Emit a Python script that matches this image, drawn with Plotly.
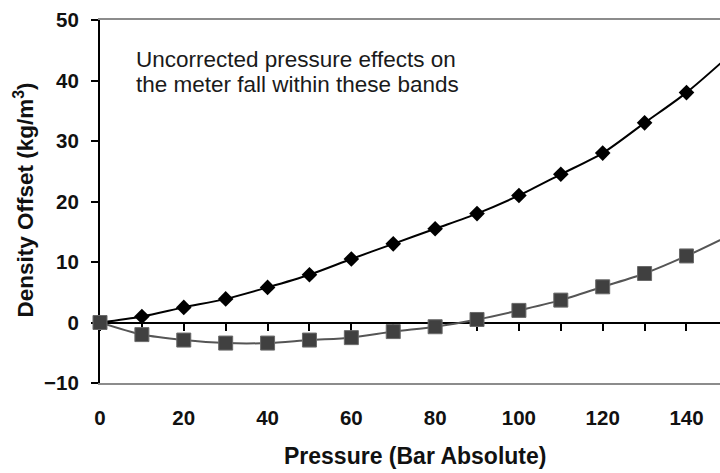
import plotly.graph_objects as go

# ---- data ----
pressure = [0, 10, 20, 30, 40, 50, 60, 70, 80, 90, 100, 110, 120, 130, 140, 150]
upper_band = [0, 1.0, 2.5, 3.9, 5.8, 7.9, 10.5, 13.0, 15.5, 18.0, 21.0, 24.5, 28.0, 33.0, 38.0, 44.0]
lower_band = [0, -2.0, -2.9, -3.4, -3.4, -2.9, -2.5, -1.5, -0.7, 0.5, 2.0, 3.7, 5.9, 8.1, 11.0, 14.3]
x_tick_vals = [0, 20, 40, 60, 80, 100, 120, 140]
y_tick_vals = [-10, 0, 10, 20, 30, 40, 50]
note_lines = ["Uncorrected pressure effects on", "the meter fall within these bands"]
x_title = "Pressure (Bar Absolute)"
y_title = "Density Offset (kg/m<sup>3</sup>)"

FONT = "Liberation Sans, Arial, sans-serif"
W, H = 720, 473
ML, MR, MT, MB = 100, 0, 20, 90
PW, PH = W - ML - MR, H - MT - MB


def px_x(p):
    return (p - ML) / PW


def px_y(p):
    return (H - MB - p) / PH


fig = go.Figure()

fig.add_trace(go.Scatter(
    x=pressure, y=upper_band, mode="lines+markers",
    line=dict(color="#000000", width=2, shape="spline", smoothing=0.8),
    marker=dict(symbol="diamond", size=12, color="#000000",
                line=dict(color="#000000", width=0)),
    cliponaxis=False, showlegend=False, hoverinfo="x+y",
))
fig.add_trace(go.Scatter(
    x=pressure, y=lower_band, mode="lines+markers",
    line=dict(color="#555555", width=2, shape="spline", smoothing=0.8),
    marker=dict(symbol="square", size=14, color="#404040",
                line=dict(color="#6a6a6a", width=1)),
    cliponaxis=False, showlegend=False, hoverinfo="x+y",
))
# empty trace to register the zero-line axis
fig.add_trace(go.Scatter(x=[None], y=[None], xaxis="x2", yaxis="y",
                         mode="markers", showlegend=False, hoverinfo="skip"))

tickfont = dict(family=FONT, size=20.5, color="#111111", weight="bold")

fig.update_layout(
    width=W, height=H,
    margin=dict(l=ML, r=MR, t=MT, b=MB, pad=0),
    paper_bgcolor="white", plot_bgcolor="white",
    showlegend=False,
    xaxis=dict(
        range=[0, 148], tickvals=x_tick_vals, ticks="", showgrid=False,
        zeroline=False, showline=True, linecolor="#8c8c8c", linewidth=2,
        mirror=True, tickfont=tickfont, ticklabelstandoff=15,
        layer="below traces",
    ),
    xaxis2=dict(
        overlaying="x", matches="x", anchor="free",
        position=10 / 60, showline=True, linecolor="#000000", linewidth=2,
        ticks="outside", ticklen=7, tickwidth=2, tickcolor="#000000",
        tick0=0, dtick=10, showticklabels=False, showgrid=False,
        zeroline=False, layer="below traces",
    ),
    yaxis=dict(
        range=[-10, 50], tickvals=y_tick_vals, ticks="outside", ticklen=7,
        tickwidth=2, tickcolor="#000000", showline=True, linecolor="#000000",
        linewidth=2, showgrid=False, zeroline=False, tickfont=tickfont,
        ticklabelstandoff=8, layer="below traces",
    ),
)

titlefont = dict(family=FONT, size=23, color="#111111", weight="bold")
ytitlefont = dict(family=FONT, size=22.5, color="#111111", weight="bold")
notefont = dict(family=FONT, size=22.5, color="#1a1a1a")

fig.add_annotation(text=x_title, xref="paper", yref="paper",
                   x=px_x(415), y=px_y(456), xanchor="center", yanchor="middle",
                   showarrow=False, font=titlefont)
fig.add_annotation(text=y_title, xref="paper", yref="paper", textangle=-90,
                   x=px_x(23.5), y=px_y(200), xanchor="center", yanchor="middle",
                   showarrow=False, font=ytitlefont)
for i, line in enumerate(note_lines):
    fig.add_annotation(text=line, xref="paper", yref="paper",
                       x=px_x(134), y=px_y(59.5 + 25 * i), xanchor="left",
                       yanchor="middle", showarrow=False, font=notefont)

fig.write_html("out.html")
